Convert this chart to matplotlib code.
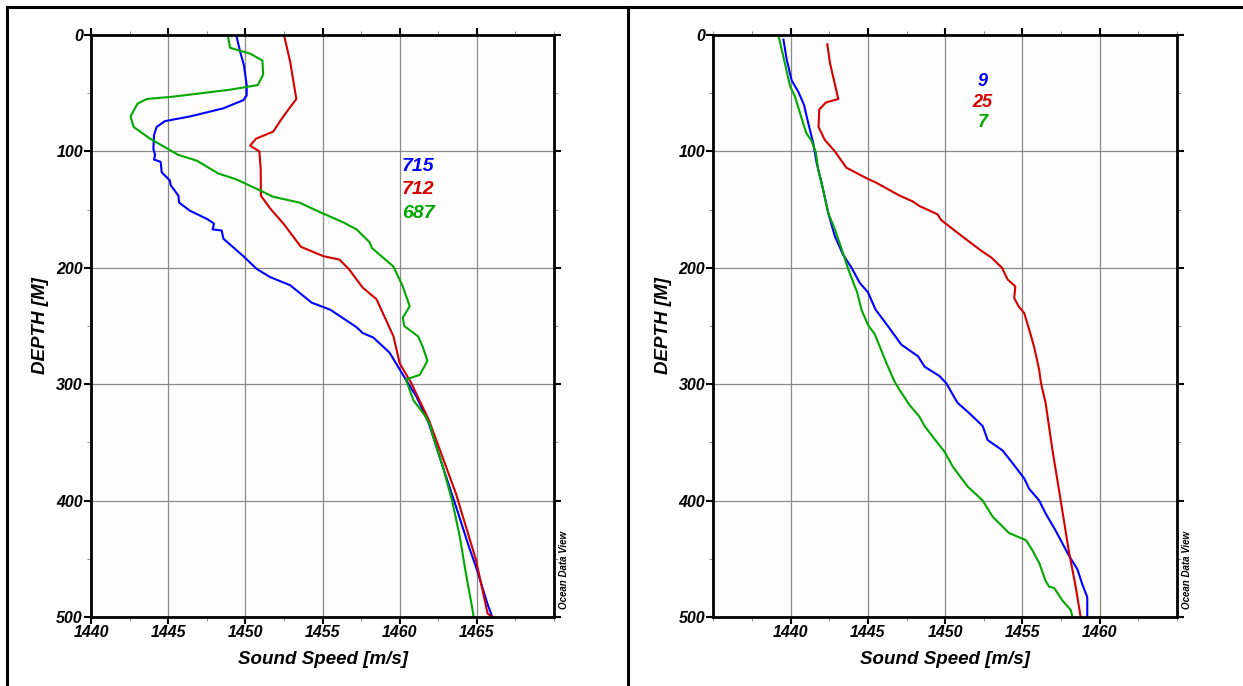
import matplotlib
matplotlib.use('Agg')
import matplotlib.pyplot as plt
from matplotlib.lines import Line2D
from matplotlib.ticker import MultipleLocator

plt.rcParams['font.family'] = ['Liberation Sans', 'DejaVu Sans']

# left panel: stations 715 / 712 / 687
depth_715 = [0, 14, 26, 43, 52, 56, 63, 70, 74, 79, 86, 98, 103, 107, 109, 118, 125, 129, 138, 144,
             151, 158, 162, 167, 168, 175, 190, 201, 208, 215, 230, 236, 251, 256, 260, 273, 296, 311,
             334, 371, 405, 440, 457, 489, 500]
speed_715 = [1449.4, 1449.65, 1449.9, 1450.08, 1450.08, 1449.86, 1448.57, 1446.4, 1444.78, 1444.24,
             1444.07, 1444.03, 1444.14, 1444.07, 1444.5, 1444.57, 1445.1, 1445.15, 1445.65, 1445.7,
             1446.4, 1447.5, 1447.96, 1447.87, 1448.46, 1448.57, 1449.86, 1450.73, 1451.6, 1452.9,
             1454.3, 1455.5, 1457.2, 1457.6, 1458.3, 1459.35, 1460.4, 1461.1, 1461.9, 1462.8,
             1463.65, 1464.5, 1464.95, 1465.7, 1466.0]

depth_712 = [0, 23, 55, 62, 72, 83, 89, 95, 100, 115, 138, 149, 162, 182, 190, 193, 201, 217, 227,
             259, 282, 299, 331, 394, 451, 497, 500]
speed_712 = [1452.5, 1452.9, 1453.3, 1452.9, 1452.35, 1451.8, 1450.7, 1450.3, 1450.9, 1450.99,
             1451.0, 1451.6, 1452.46, 1453.6, 1455.05, 1456.1, 1456.7, 1457.6, 1458.5, 1459.6,
             1460.0, 1460.75, 1461.9, 1463.65, 1464.95, 1465.7, 1466.0]

depth_687 = [0, 11, 16, 22, 34, 43, 47, 53, 55, 59, 70, 79, 89, 103, 108, 119, 124, 132, 139, 144,
             152, 161, 167, 178, 183, 199, 216, 233, 243, 250, 259, 268, 280, 292, 296, 314, 328,
             336, 342, 371, 400, 431, 463, 492, 500]
speed_687 = [1448.85, 1449.0, 1450.3, 1451.1, 1451.15, 1450.8, 1449.0, 1445.3, 1443.6, 1443.0,
             1442.55, 1442.75, 1443.8, 1445.65, 1446.85, 1448.24, 1449.4, 1450.7, 1451.8, 1453.5,
             1454.8, 1456.35, 1457.2, 1458.05, 1458.2, 1459.6, 1460.2, 1460.65, 1460.2, 1460.3,
             1461.2, 1461.5, 1461.8, 1461.3, 1460.4, 1460.9, 1461.7, 1462.0, 1462.1, 1462.8,
             1463.4, 1463.9, 1464.3, 1464.7, 1464.8]

# right panel: stations 9 / 25 / 7
depth_9 = [4, 21, 39, 49, 60, 76, 93, 110, 127, 153, 173, 189, 200, 213, 221, 236, 252, 266, 276,
           285, 293, 299, 316, 325, 336, 348, 357, 368, 381, 390, 400, 411, 426, 447, 459, 472, 483, 500]
speed_9 = [1439.53, 1439.74, 1440.06, 1440.5, 1440.86, 1441.14, 1441.46, 1441.68, 1442.0, 1442.43,
           1442.86, 1443.4, 1443.94, 1444.47, 1445.0, 1445.5, 1446.4, 1447.16, 1448.24, 1448.67,
           1449.63, 1450.06, 1450.8, 1451.57, 1452.43, 1452.75, 1453.72, 1454.37, 1455.12, 1455.44,
           1456.09, 1456.5, 1457.16, 1458.0, 1458.56, 1458.88, 1459.2, 1459.2]

depth_25 = [8, 24, 55, 58, 64, 79, 90, 100, 114, 123, 127, 138, 143, 147, 154, 159, 173, 186, 191,
            200, 210, 216, 226, 233, 239, 255, 268, 288, 299, 316, 357, 400, 443, 474, 500]
speed_25 = [1442.37, 1442.54, 1443.08, 1442.28, 1441.85, 1441.8, 1442.2, 1442.86, 1443.6, 1444.9,
            1445.55, 1447.05, 1447.9, 1448.34, 1449.5, 1449.74, 1451.1, 1452.4, 1452.97, 1453.68,
            1454.04, 1454.54, 1454.47, 1454.75, 1455.12, 1455.48, 1455.76, 1456.09, 1456.2, 1456.5,
            1456.95, 1457.48, 1458.0, 1458.45, 1458.77]

depth_7 = [0, 19, 44, 53, 67, 84, 91, 101, 116, 133, 153, 167, 184, 201, 216, 221, 236, 249, 257,
           282, 298, 305, 318, 328, 336, 349, 358, 371, 388, 400, 414, 428, 434, 443, 454, 469, 474,
           475, 486, 494, 500]
speed_7 = [1439.2, 1439.53, 1439.96, 1440.28, 1440.6, 1441.0, 1441.35, 1441.63, 1441.78, 1442.1,
           1442.43, 1442.86, 1443.3, 1443.72, 1444.15, 1444.3, 1444.58, 1445.0, 1445.44, 1446.2,
           1446.73, 1447.05, 1447.7, 1448.34, 1448.67, 1449.42, 1449.96, 1450.5, 1451.46, 1452.43,
           1453.08, 1454.15, 1455.23, 1455.66, 1456.1, 1456.5, 1456.73, 1457.05, 1457.6, 1458.13,
           1458.24]

left_ticks = [1440, 1445, 1450, 1455, 1460, 1465]
right_ticks = [1440, 1445, 1450, 1455, 1460]
depth_ticks = [0, 100, 200, 300, 400, 500]

BLUE = '#0000ff'
RED = '#d40000'
GREEN = '#00a800'


def style_axis(ax, xlim, xticks):
    ax.set_facecolor('#fdfdfd')
    ax.set_xlim(xlim)
    ax.set_ylim(500, 0)
    ax.set_xticks(xticks, labels=[str(t) for t in xticks], fontsize=11.5,
                  fontweight='bold', fontstyle='italic')
    ax.set_yticks(depth_ticks, labels=[str(t) for t in depth_ticks], fontsize=11.5,
                  fontweight='bold', fontstyle='italic')
    ax.xaxis.set_minor_locator(MultipleLocator(2.5))
    ax.yaxis.set_minor_locator(MultipleLocator(50))
    ax.tick_params(which='both', direction='out', top=True, right=True)
    ax.tick_params(which='major', length=5, width=1.5, pad=1)
    ax.tick_params(which='minor', length=3, width=0.6, color='#777777')
    ax.grid(True, which='major', color='#8a8a8a', linewidth=0.9)
    ax.set_axisbelow(True)
    for sp in ax.spines.values():
        sp.set_linewidth(2)
    ax.set_xlabel('Sound Speed [m/s]', fontsize=13.5, fontweight='bold', fontstyle='italic', labelpad=8)
    ax.set_ylabel('DEPTH [M]', fontsize=13.5, fontweight='bold', fontstyle='italic', labelpad=5)
    ax.text(1.012, 0.08, 'Ocean Data View', transform=ax.transAxes, rotation=90,
            fontsize=7, fontstyle='italic', fontweight='bold', ha='left', va='center')


fig = plt.figure(figsize=(12.43, 6.86), dpi=100)

ax1 = fig.add_axes([0.0734, 0.1006, 0.3722, 0.8484])
style_axis(ax1, (1440, 1470), left_ticks)
ax1.plot(speed_715, depth_715, color=BLUE, lw=1.5)
ax1.plot(speed_712, depth_712, color=RED, lw=1.5)
ax1.plot(speed_687, depth_687, color=GREEN, lw=1.5)
ax1.text(1460.15, 113, '715', color=BLUE, fontsize=14, fontweight='bold', fontstyle='italic', va='center')
ax1.text(1460.15, 133, '712', color=RED, fontsize=14, fontweight='bold', fontstyle='italic', va='center')
ax1.text(1460.15, 153, '687', color=GREEN, fontsize=14, fontweight='bold', fontstyle='italic', va='center')

ax2 = fig.add_axes([0.5740, 0.1006, 0.3728, 0.8484])
style_axis(ax2, (1435, 1465), right_ticks)
ax2.plot(speed_9, depth_9, color=BLUE, lw=1.5)
ax2.plot(speed_25, depth_25, color=RED, lw=1.5)
ax2.plot(speed_7, depth_7, color=GREEN, lw=1.5)
ax2.text(1452.4, 40, '9', color=BLUE, fontsize=13, fontweight='bold', fontstyle='italic', ha='center', va='center')
ax2.text(1452.4, 58, '25', color=RED, fontsize=13, fontweight='bold', fontstyle='italic', ha='center', va='center')
ax2.text(1452.4, 75, '7', color=GREEN, fontsize=13, fontweight='bold', fontstyle='italic', ha='center', va='center')

# table-like frame around the two panels
fig.add_artist(Line2D([0.0056, 1.0], [0.9898, 0.9898], color='black', lw=2.2))
fig.add_artist(Line2D([0.0056, 0.0056], [0.0, 0.9898], color='black', lw=2.2))
fig.add_artist(Line2D([0.5052, 0.5052], [0.0, 0.9898], color='black', lw=2.2))

fig.savefig('out.png', dpi=100)
